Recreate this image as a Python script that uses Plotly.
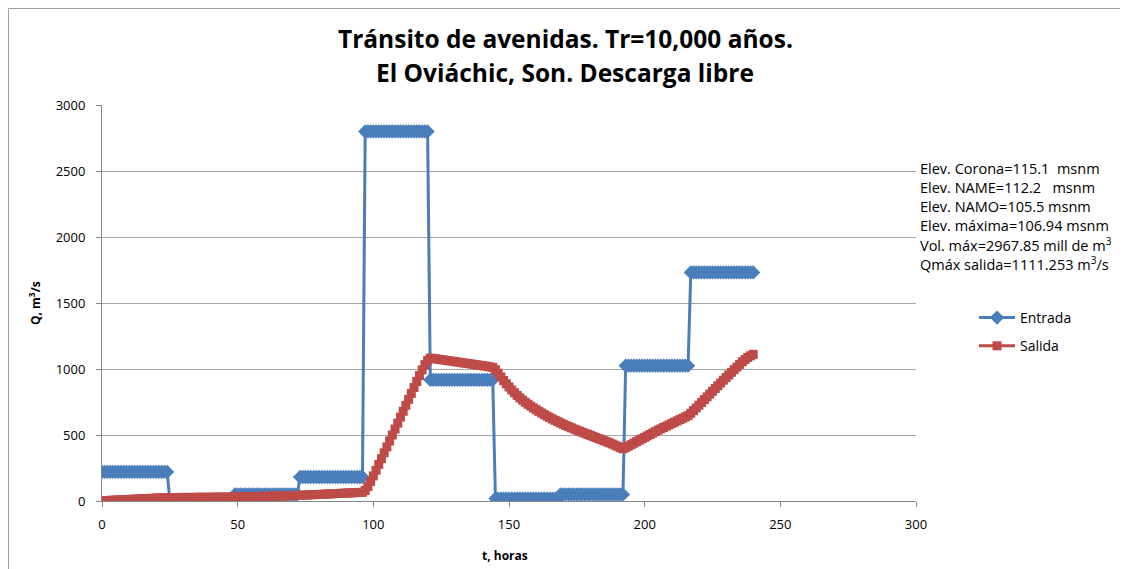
import plotly.graph_objects as go

# hours 0..240
t_horas = list(range(0, 241))

entrada = (
    [220, 220, 220, 220, 220, 220, 220, 220, 220, 220, 220, 220, 220, 220, 220, 220, 220, 220, 220, 220, 220, 220, 220, 220, 220]
    + [8, 8, 8, 8, 8, 8, 8, 8, 8, 8, 8, 8, 8, 8, 8, 8, 8, 8, 8, 8, 8, 8, 8, 8]
    + [50, 50, 50, 50, 50, 50, 50, 50, 50, 50, 50, 50, 50, 50, 50, 50, 50, 50, 50, 50, 50, 50, 50, 50]
    + [182, 182, 182, 182, 182, 182, 182, 182, 182, 182, 182, 182, 182, 182, 182, 182, 182, 182, 182, 182, 182, 182, 182, 182]
    + [2800, 2800, 2800, 2800, 2800, 2800, 2800, 2800, 2800, 2800, 2800, 2800, 2800, 2800, 2800, 2800, 2800, 2800, 2800, 2800, 2800, 2800, 2800, 2800]
    + [918, 918, 918, 918, 918, 918, 918, 918, 918, 918, 918, 918, 918, 918, 918, 918, 918, 918, 918, 918, 918, 918, 918, 918]
    + [18, 18, 18, 18, 18, 18, 18, 18, 18, 18, 18, 18, 18, 18, 18, 18, 18, 18, 18, 18, 18, 18, 18, 18]
    + [50, 50, 50, 50, 50, 50, 50, 50, 50, 50, 50, 50, 50, 50, 50, 50, 50, 50, 50, 50, 50, 50, 50, 50]
    + [1025, 1025, 1025, 1025, 1025, 1025, 1025, 1025, 1025, 1025, 1025, 1025, 1025, 1025, 1025, 1025, 1025, 1025, 1025, 1025, 1025, 1025, 1025, 1025]
    + [1732, 1732, 1732, 1732, 1732, 1732, 1732, 1732, 1732, 1732, 1732, 1732, 1732, 1732, 1732, 1732, 1732, 1732, 1732, 1732, 1732, 1732, 1732, 1732]
)

salida = (
    [0, 2, 3, 5, 6, 7, 8, 9, 10, 11, 12, 13, 14, 15, 16, 17, 18, 19, 20, 21, 22, 23, 24, 25, 26]
    + [26, 26, 26, 26, 27, 27, 27, 27, 27, 27, 28, 28, 28, 28, 28, 28, 29, 29, 29, 29, 29, 29, 30, 30]
    + [30, 31, 31, 32, 32, 33, 33, 34, 34, 35, 35, 36, 36, 37, 37, 38, 38, 39, 39, 40, 40, 41, 41, 42]
    + [43, 44, 45, 46, 47, 48, 49, 50, 51, 52, 53, 54, 55, 56, 57, 58, 59, 60, 61, 62, 63, 64, 65, 66]
    + [80, 110, 148, 190, 233, 277, 321, 365, 410, 455, 500, 545, 590, 635, 680, 725, 770, 815, 860, 905, 950, 993, 1033, 1065]
    + [1082, 1080, 1077, 1074, 1071, 1068, 1065, 1062, 1059, 1056, 1053, 1050, 1047, 1044, 1041, 1038, 1035, 1032, 1029, 1026, 1023, 1020, 1016, 1012]
    + [995, 968, 940, 913, 888, 864, 841, 820, 800, 781, 764, 748, 733, 719, 705, 692, 679, 667, 655, 643, 632, 621, 611, 601]
    + [591, 581, 572, 563, 554, 545, 537, 529, 521, 513, 505, 497, 489, 481, 473, 465, 457, 449, 441, 432, 423, 414, 405, 396]
    + [405, 416, 427, 438, 449, 460, 471, 482, 493, 504, 515, 526, 537, 547, 557, 567, 577, 587, 597, 607, 617, 627, 637, 647]
    + [665, 685, 705, 726, 747, 768, 789, 810, 831, 852, 873, 894, 915, 935, 955, 975, 995, 1015, 1035, 1055, 1072, 1088, 1100, 1111]
)

x_ticks = [0, 50, 100, 150, 200, 250, 300]
y_ticks = [0, 500, 1000, 1500, 2000, 2500, 3000]

info_lines = [
    "Elev. Corona=115.1  msnm",
    "Elev. NAME=112.2   msnm",
    "Elev. NAMO=105.5 msnm",
    "Elev. máxima=106.94 msnm",
    "Vol. máx=2967.85 mill de m<sup>3</sup>",
    "Qmáx salida=1111.253 m<sup>3</sup>/s",
]

title_lines = ["Tránsito de avenidas. Tr=10,000 años.", "El Oviáchic, Son. Descarga libre"]

BLUE = "#4A7EBB"
RED = "#BE4B48"
FONT = "Open Sans"

OFF = 8  # page body margin
W, H = 1128 - OFF, 569 - OFF
# plot area in screenshot pixels
SL, SR, ST, SB = 102, 916, 105, 501
L, R, T, B = SL - OFF, SR - OFF, ST - OFF, SB - OFF
pw, ph = R - L, B - T


def px(xs):
    return (xs - SL) / pw


def py(ys):
    return (SB - ys) / ph


fig = go.Figure()
fig.add_trace(go.Scatter(
    x=t_horas, y=entrada, name="Entrada", mode="lines+markers",
    line=dict(color=BLUE, width=3),
    marker=dict(symbol="diamond", size=11, color=BLUE),
    legendgroup="a",
))
fig.add_trace(go.Scatter(
    x=t_horas, y=salida, name="Salida", mode="lines+markers",
    line=dict(color=RED, width=3),
    marker=dict(symbol="square", size=9, color=RED),
    legendgroup="b",
))

annotations = []
annotations.append(dict(text="<b>" + title_lines[0] + "</b>", x=px(565), y=py(38), xref="paper", yref="paper",
                        showarrow=False, font=dict(family=FONT, size=24.5, color="#000"), xanchor="center", yanchor="middle"))
annotations.append(dict(text="<b>" + title_lines[1] + "</b>", x=px(565), y=py(72), xref="paper", yref="paper",
                        showarrow=False, font=dict(family=FONT, size=24.5, color="#000"), xanchor="center", yanchor="middle"))
annotations.append(dict(text="<b>Q, m<sup>3</sup>/s</b>", x=px(35), y=py(303), xref="paper", yref="paper",
                        showarrow=False, textangle=-90, font=dict(family=FONT, size=12, color="#000"),
                        xanchor="center", yanchor="middle"))
annotations.append(dict(text="<b>t, horas</b>", x=px(505), y=py(555), xref="paper", yref="paper",
                        showarrow=False, font=dict(family=FONT, size=12, color="#000"),
                        xanchor="center", yanchor="middle"))
for i, line in enumerate(info_lines):
    annotations.append(dict(text=line, x=px(918), y=py(168 + 19 * i), xref="paper", yref="paper",
                            showarrow=False, font=dict(family=FONT, size=14.5, color="#000"),
                            xanchor="left", yanchor="middle"))

fig.update_layout(
    width=W, height=H,
    margin=dict(l=L, r=W - R, t=T, b=H - B, pad=0),
    paper_bgcolor="white", plot_bgcolor="white",
    font=dict(family=FONT, size=13, color="#000"),
    showlegend=True,
    legend=dict(x=px(974), y=py(302), xanchor="left", yanchor="top",
                font=dict(family=FONT, size=14, color="#000"),
                tracegroupgap=7, bgcolor="rgba(0,0,0,0)", itemwidth=36),
    annotations=annotations,
    shapes=[dict(type="rect", xref="paper", yref="paper",
                 x0=px(8.5), x1=px(1124), y0=py(600), y1=py(8.5),
                 line=dict(color="#A0A0A0", width=1), fillcolor="rgba(0,0,0,0)", layer="below")],
)

fig.update_xaxes(range=[0, 300], tickvals=x_ticks, showgrid=False, zeroline=False,
                 showline=True, linecolor="#868686", linewidth=1,
                 ticks="outside", ticklen=5, tickcolor="#868686",
                 ticklabelstandoff=6, tickfont=dict(family=FONT, size=13, color="#000"))
fig.update_yaxes(range=[0, 3000], tickvals=y_ticks, showgrid=True, gridcolor="#A6A6A6", gridwidth=1,
                 zeroline=False, showline=True, linecolor="#868686", linewidth=1,
                 ticks="outside", ticklen=5, tickcolor="#868686",
                 ticklabelstandoff=8, tickfont=dict(family=FONT, size=13, color="#000"))

fig.write_html("out.html")
